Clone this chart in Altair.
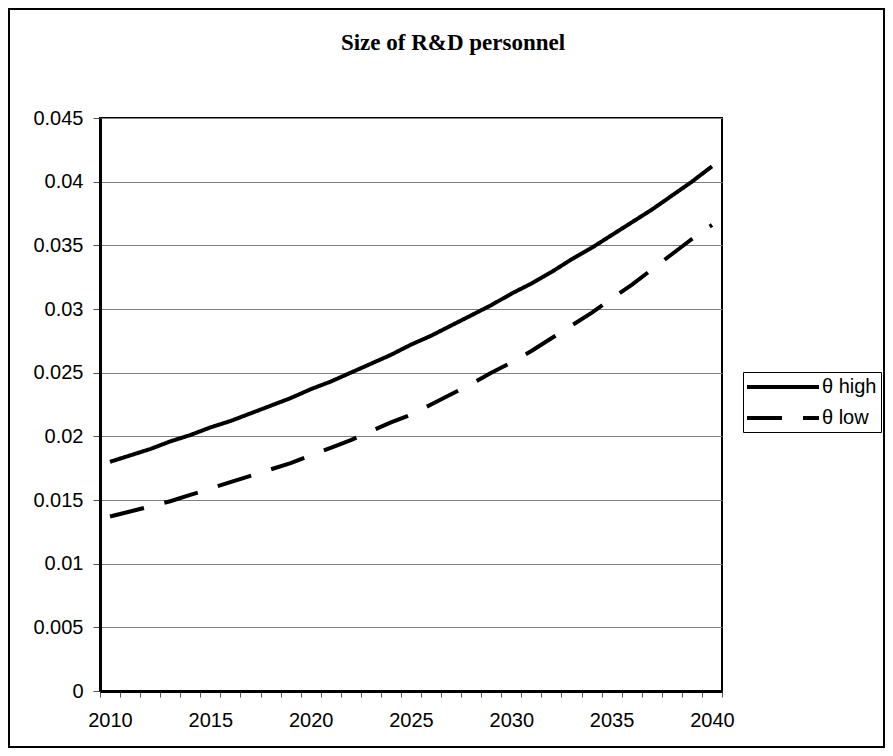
import altair as alt
import pandas as pd

# ---- data ----
years = list(range(2010, 2041))
theta_high = [0.0180, 0.0185, 0.0190, 0.0196, 0.0201, 0.0207, 0.0212, 0.0218, 0.0224, 0.0230,
              0.0237, 0.0243, 0.0250, 0.0257, 0.0264, 0.0272, 0.0279, 0.0287, 0.0295, 0.0303,
              0.0312, 0.0320, 0.0329, 0.0339, 0.0348, 0.0358, 0.0368, 0.0378, 0.0389, 0.0400,
              0.0412]
theta_low = [0.0137, 0.0141, 0.0145, 0.0149, 0.0154, 0.0159, 0.0164, 0.0169, 0.0174, 0.0179,
             0.0185, 0.0191, 0.0197, 0.0204, 0.0211, 0.0217, 0.0225, 0.0233, 0.0241, 0.0250,
             0.0258, 0.0267, 0.0277, 0.0287, 0.0297, 0.0308, 0.0319, 0.0331, 0.0343, 0.0355,
             0.0366]
series_names = ["θ high", "θ low"]
y_ticks = [0, 0.005, 0.01, 0.015, 0.02, 0.025, 0.03, 0.035, 0.04, 0.045]
x_tick_bounds = [y - 0.5 for y in years] + [years[-1] + 0.5]
title_text = "Size of R&D personnel"

rows = []
for yr, h, l in zip(years, theta_high, theta_low):
    rows.append({"year": yr, "value": h, "series": series_names[0]})
    rows.append({"year": yr, "value": l, "series": series_names[1]})
df = pd.DataFrame(rows)

FONT = "Liberation Sans"

line = alt.Chart(df).mark_line(strokeWidth=4, strokeCap="butt", strokeJoin="round", color="black").encode(
    x=alt.X("year:Q",
            scale=alt.Scale(domain=[years[0] - 0.5, years[-1] + 0.5], nice=False, zero=False),
            axis=alt.Axis(values=x_tick_bounds,
                          labelExpr="((datum.value + 0.5) % 5 == 0) ? format(datum.value + 0.5, 'd') : ''",
                          labelOffset=10, labelOverlap=False, labelFlush=False,
                          tickSize=6, tickColor="#555555", tickWidth=1,
                          domainColor="black", domainWidth=3,
                          labelFont=FONT, labelFontSize=20, labelColor="black", labelPadding=13,
                          grid=False, title=None)),
    y=alt.Y("value:Q",
            scale=alt.Scale(domain=[0, 0.045], nice=False),
            axis=alt.Axis(values=y_ticks, format="~g",
                          tickSize=7, tickColor="#555555", tickWidth=1,
                          domainColor="black", domainWidth=3,
                          labelFont=FONT, labelFontSize=20, labelColor="black", labelPadding=10,
                          grid=True, gridColor="#808080", gridWidth=1, title=None)),
    strokeDash=alt.StrokeDash("series:N",
                              scale=alt.Scale(domain=series_names, range=[[1, 0], [35, 21]]),
                              legend=alt.Legend(title=None, orient="none", legendX=643, legendY=254,
                                                direction="vertical", strokeColor="black",
                                                fillColor="white", padding=4,
                                                symbolType="M-4,0H4", symbolSize=324,
                                                symbolStrokeWidth=4, symbolStrokeColor="black",
                                                symbolOffset=25, labelOffset=28,
                                                labelFont=FONT, labelFontSize=20, labelColor="black",
                                                rowPadding=10)),
)

border = alt.Chart(alt.Data(values=[{"a": 1}])).mark_rect(
    fill="transparent", stroke="black", strokeWidth=2
).encode(
    x=alt.value(-91), x2=alt.value(784), y=alt.value(-109), y2=alt.value(629)
)

chart = alt.layer(border, line).properties(
    width=622, height=573,
    padding={"left": 92, "top": 110, "right": 163, "bottom": 57},
    autosize=alt.AutoSizeParams(type="none"),
    background="white",
    title=alt.TitleParams(title_text, font="Liberation Serif", fontSize=23, fontWeight="bold",
                          color="black", anchor="middle", frame="group", dx=42,
                          offset=-65, baseline="alphabetic"),
).configure_view(stroke="black", strokeWidth=2)

chart.save("out.html", embed_options={"renderer": "svg", "actions": False})
